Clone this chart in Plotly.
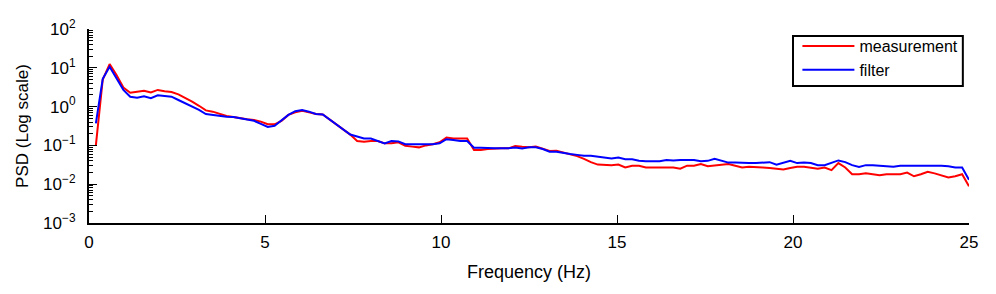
import plotly.graph_objects as go

freq = [round(k * 25 / 128, 4) for k in range(1, 129)]

measurement = [
    0.10, 5.0, 12.5, 6.5, 3.1, 2.28, 2.42, 2.57, 2.33, 2.69,
    2.5, 2.38, 2.07, 1.7, 1.34, 1.05, 0.80, 0.74, 0.645, 0.57,
    0.54, 0.50, 0.47, 0.45, 0.41, 0.35, 0.35, 0.43, 0.61, 0.71,
    0.785, 0.71, 0.645, 0.63, 0.47, 0.34, 0.25, 0.19, 0.13, 0.125,
    0.13, 0.13, 0.113, 0.113, 0.12, 0.098, 0.093, 0.089, 0.10, 0.107,
    0.12, 0.16, 0.15, 0.15, 0.15, 0.076, 0.076, 0.081, 0.084, 0.084,
    0.084, 0.097, 0.092, 0.089, 0.093, 0.081, 0.072, 0.073, 0.065, 0.060,
    0.053, 0.045, 0.037, 0.032, 0.031, 0.031, 0.032, 0.027, 0.030, 0.030,
    0.027, 0.027, 0.028, 0.028, 0.027, 0.025, 0.030, 0.030, 0.033, 0.029,
    0.030, 0.031, 0.033, 0.030, 0.027, 0.028, 0.028, 0.027, 0.026, 0.025,
    0.024, 0.026, 0.028, 0.028, 0.026, 0.025, 0.027, 0.023, 0.035, 0.027,
    0.018, 0.018, 0.019, 0.018, 0.017, 0.018, 0.018, 0.018, 0.020, 0.016,
    0.018, 0.021, 0.019, 0.017, 0.015, 0.016, 0.018, 0.0089,
]

filtered = [
    0.37, 5.2, 10.7, 5.6, 2.7, 1.8, 1.7, 1.84, 1.64, 1.95,
    1.9, 1.8, 1.48, 1.22, 1.0, 0.82, 0.645, 0.61, 0.59, 0.55,
    0.54, 0.50, 0.47, 0.43, 0.36, 0.30, 0.32, 0.43, 0.61, 0.76,
    0.82, 0.74, 0.645, 0.63, 0.47, 0.34, 0.25, 0.19, 0.17, 0.15,
    0.15, 0.13, 0.113, 0.13, 0.127, 0.107, 0.107, 0.107, 0.107, 0.107,
    0.113, 0.144, 0.138, 0.13, 0.13, 0.087, 0.087, 0.084, 0.084, 0.084,
    0.084, 0.088, 0.083, 0.089, 0.089, 0.081, 0.069, 0.069, 0.063, 0.060,
    0.057, 0.054, 0.054, 0.051, 0.047, 0.046, 0.049, 0.044, 0.044, 0.040,
    0.039, 0.039, 0.039, 0.042, 0.041, 0.042, 0.042, 0.042, 0.039, 0.040,
    0.045, 0.040, 0.036, 0.036, 0.035, 0.035, 0.035, 0.036, 0.037, 0.032,
    0.035, 0.040, 0.035, 0.036, 0.035, 0.031, 0.031, 0.036, 0.041, 0.037,
    0.031, 0.028, 0.031, 0.031, 0.030, 0.030, 0.028, 0.030, 0.030, 0.031,
    0.031, 0.030, 0.030, 0.030, 0.029, 0.027, 0.027, 0.013,
]

x_ticks = [0, 5, 10, 15, 20, 25]
y_ticks = [1e-3, 1e-2, 1e-1, 1, 10, 100]
y_tick_text = ["10<sup>\u22123</sup>", "10<sup>\u22122</sup>", "10<sup>\u22121</sup>",
               "10<sup>0</sup>", "10<sup>1</sup>", "10<sup>2</sup>"]
y_minor = [m * 10 ** e for e in range(-3, 2) for m in range(2, 10)]

FONT = "Liberation Sans, Arial, sans-serif"

fig = go.Figure()
fig.add_trace(go.Scatter(x=freq, y=measurement, mode="lines", name="measurement",
                         line=dict(color="#ff0000", width=2)))
fig.add_trace(go.Scatter(x=freq, y=filtered, mode="lines", name="filter",
                         line=dict(color="#0000ff", width=2)))

# legend frame
fig.add_shape(type="rect", xref="paper", yref="paper",
              x0=0.8, x1=0.993, y0=0.706, y1=0.964,
              line=dict(color="black", width=2), fillcolor="white", layer="below")

fig.update_layout(
    width=988, height=286,
    margin=dict(l=81, r=27, t=21, b=71),
    paper_bgcolor="white", plot_bgcolor="white",
    font=dict(family=FONT, size=16, color="black"),
    showlegend=True,
    legend=dict(x=0.805, y=1.0, xanchor="left", yanchor="top",
                borderwidth=0, bgcolor="rgba(0,0,0,0)",
                font=dict(family=FONT, size=16, color="black"),
                itemwidth=52, tracegroupgap=0),
    xaxis=dict(
        range=[0, 25], tickvals=x_ticks, ticktext=[str(v) for v in x_ticks],
        showgrid=False, zeroline=False, showline=True, linecolor="black", linewidth=2,
        ticks="inside", ticklen=8, tickwidth=1, tickcolor="black",
        tickfont=dict(family=FONT, size=17), automargin=False, ticklabelstandoff=3,
        title=dict(text="Frequency (Hz)", font=dict(family=FONT, size=18), standoff=14),
    ),
    yaxis=dict(
        type="log", range=[-3, 2], tickmode="array", tickvals=y_ticks, ticktext=y_tick_text,
        showgrid=False, zeroline=False, showline=True, linecolor="black", linewidth=2,
        ticks="inside", ticklen=8, tickwidth=1, tickcolor="black",
        tickfont=dict(family=FONT, size=17), automargin=False, ticklabelstandoff=8,
        minor=dict(tickmode="array", tickvals=y_minor, ticks="inside", ticklen=4,
                   tickwidth=1, tickcolor="black", showgrid=False),
        title=dict(text="PSD (Log scale)", font=dict(family=FONT, size=17), standoff=10),
    ),
)

fig.write_html("out.html")
